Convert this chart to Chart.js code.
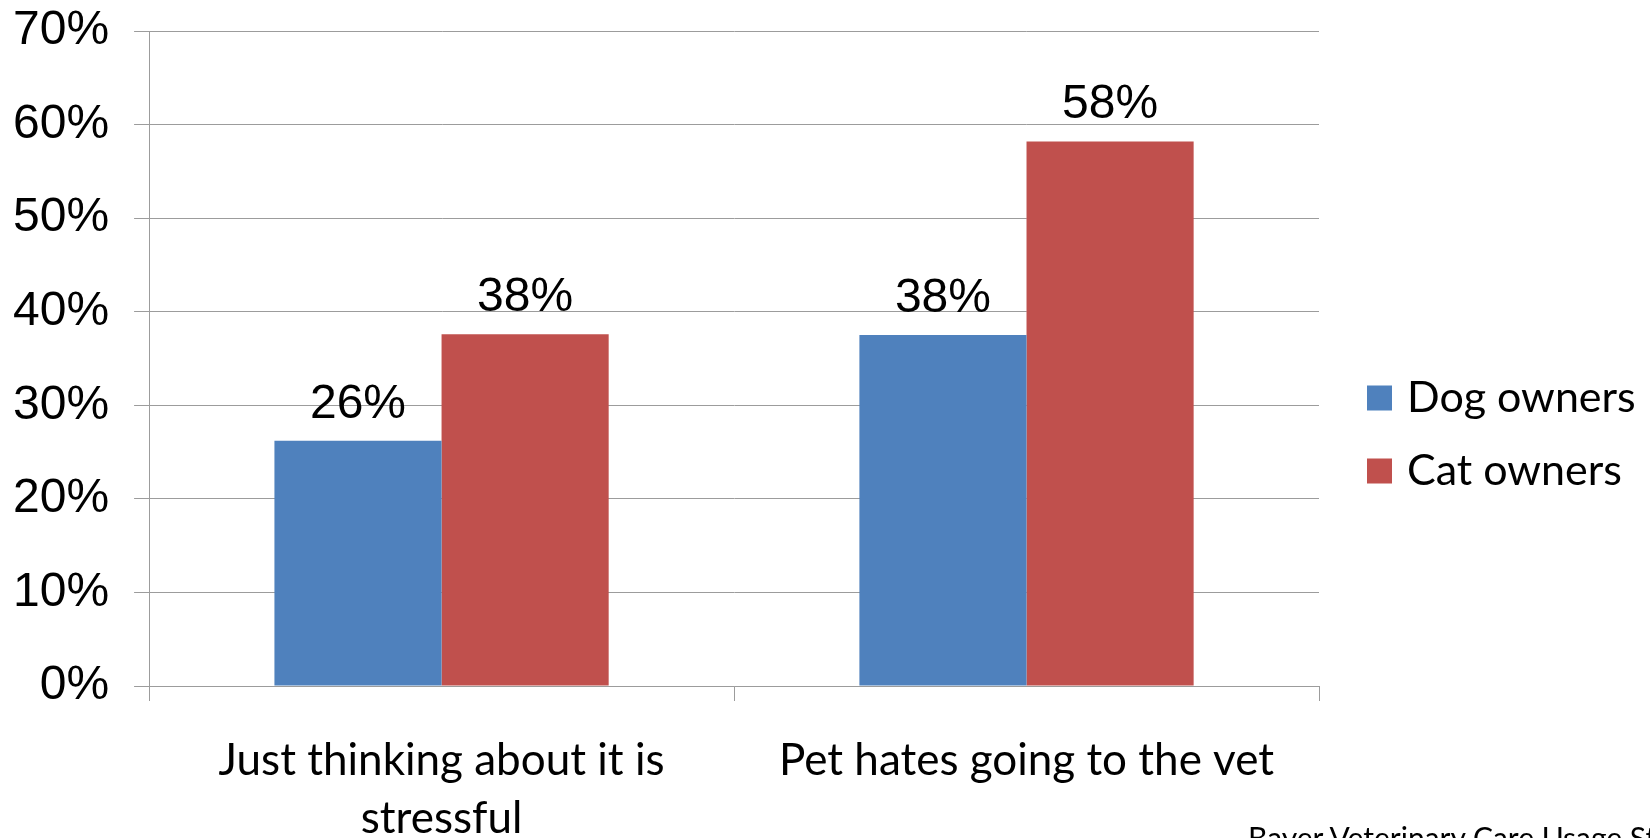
<!DOCTYPE html>
<html>
<head>
<meta charset="utf-8">
<script src="https://cdn.jsdelivr.net/npm/chart.js@4.4.0/dist/chart.umd.min.js"></script>
<style>
  html, body { margin: 0; padding: 0; background: #fff; overflow: hidden; }
  #wrap { position: relative; width: 1650px; height: 838px; }
  #source { position: absolute; left: 1248px; top: 822px; font: 30px Lato, sans-serif; line-height: 1; white-space: nowrap; color: #000; }
</style>
</head>
<body>
<div id="wrap">
  <canvas id="myChart" width="1650" height="838"></canvas>
  <div id="source">Bayer Veterinary Care Usage Study</div>
</div>
<script>
const categories = [['Just thinking about it is', 'stressful'], 'Pet hates going to the vet'];
const dogOwners = [26.2, 37.5];
const catOwners = [37.6, 58.2];
const seriesNames = ['Dog owners', 'Cat owners'];
const seriesColors = ['#4F81BD', '#C0504D'];
const yMin = 0;
const yMax = 70;
const yStep = 10;

const axisGrey = '#9c9c9c';

// values printed above each bar, rounded like the original
const barValueLabels = {
  id: 'barValueLabels',
  afterDatasetsDraw(chart) {
    const ctx = chart.ctx;
    ctx.save();
    ctx.font = '48px "Liberation Sans", Arial, sans-serif';
    ctx.fillStyle = '#000';
    ctx.textAlign = 'center';
    ctx.textBaseline = 'alphabetic';
    chart.data.datasets.forEach((ds, i) => {
      chart.getDatasetMeta(i).data.forEach((bar, j) => {
        ctx.fillText(Math.round(ds.data[j]) + '%', bar.x, bar.y - 23);
      });
    });
    ctx.restore();
  }
};

// legend on the right, drawn next to the plot area
const sideLegend = {
  id: 'sideLegend',
  afterDraw(chart) {
    const ctx = chart.ctx;
    const area = chart.chartArea;
    const x = area.right + 48;
    const firstRow = area.top + 367;
    ctx.save();
    ctx.font = '43px Lato, sans-serif';
    ctx.textBaseline = 'middle';
    ctx.textAlign = 'left';
    chart.data.datasets.forEach((ds, i) => {
      const y = firstRow + i * 73;
      ctx.fillStyle = ds.backgroundColor;
      ctx.fillRect(x, y - 12.5, 25, 25);
      ctx.fillStyle = '#000';
      ctx.fillText(ds.label, x + 40, y);
    });
    ctx.restore();
  }
};

const ctx = document.getElementById('myChart');

const myChart = new Chart(ctx, { // eslint-disable-line
    type: 'bar',
    data: {
        labels: categories,
        datasets: [
            {
                label: seriesNames[0],
                data: dogOwners,
                backgroundColor: seriesColors[0],
                barPercentage: 1,
                categoryPercentage: 0.5714
            },
            {
                label: seriesNames[1],
                data: catOwners,
                backgroundColor: seriesColors[1],
                barPercentage: 1,
                categoryPercentage: 0.5714
            }
        ]
    },
    options: {
        responsive: false,
        animation: false,
        layout: {
            padding: { top: 0, left: -12, right: 331, bottom: 0 }
        },
        plugins: {
            legend: { display: false },
            tooltip: { enabled: false }
        },
        scales: {
            x: {
                grid: { offset: true, drawOnChartArea: false, tickLength: 15, color: axisGrey },
                border: { color: axisGrey },
                ticks: {
                    padding: 31,
                    color: '#000',
                    maxRotation: 0,
                    autoSkip: false,
                    font: { family: 'Lato', size: 44, lineHeight: '58px' }
                },
                afterFit(scale) { scale.height = 152; }
            },
            y: {
                min: yMin,
                max: yMax,
                ticks: {
                    stepSize: yStep,
                    padding: 25,
                    color: '#000',
                    font: { family: 'Liberation Sans', size: 48, lineHeight: '12px' },
                    callback: (v) => v + '%'
                },
                grid: { tickLength: 15, color: axisGrey },
                border: { color: axisGrey }
            }
        }
    },
    plugins: [barValueLabels, sideLegend]
});
</script>
</body>
</html>
